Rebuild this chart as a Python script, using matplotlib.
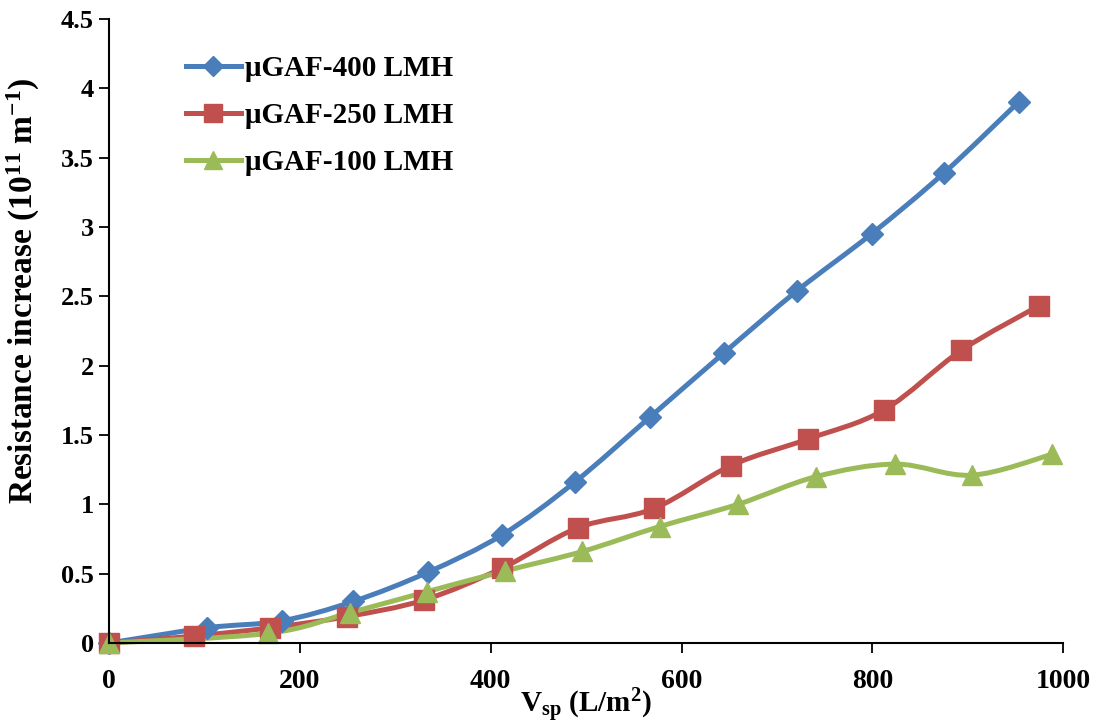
#Resistance increase vs specific permeate volume for three fluxes, Excel-style smoothed lines.
import numpy as np
import matplotlib
matplotlib.use('Agg')
import matplotlib.pyplot as plt
from matplotlib.path import Path
from matplotlib.patches import PathPatch

#data
v_400 = [0, 103, 181, 256, 334, 412, 488, 567, 644, 721, 799, 875, 953]
r_400 = [0, 0.11, 0.16, 0.30, 0.51, 0.78, 1.16, 1.63, 2.09, 2.54, 2.95, 3.39, 3.90]
v_250 = [0, 89, 169, 249, 330, 412, 491, 571, 652, 732, 812, 893, 974]
r_250 = [0, 0.05, 0.11, 0.19, 0.31, 0.54, 0.83, 0.97, 1.28, 1.47, 1.68, 2.11, 2.43]
v_100 = [0, 167, 253, 333, 415, 496, 577, 659, 741, 824, 904, 988]
r_100 = [0, 0.07, 0.22, 0.37, 0.52, 0.66, 0.84, 1.00, 1.20, 1.29, 1.21, 1.36]
labels = ['μGAF-400 LMH', 'μGAF-250 LMH', 'μGAF-100 LMH']
colors = ['#4A7EBB', '#C0504D', '#9BBB59']
markers = ['D', 's', '^']
msizes = [11, 14, 15]

plt.rcParams['font.family'] = ['Liberation Serif', 'DejaVu Serif']
plt.rcParams['font.weight'] = 'bold'
plt.rcParams['mathtext.fontset'] = 'custom'
plt.rcParams['mathtext.rm'] = 'Liberation Serif:bold'
plt.rcParams['mathtext.bf'] = 'Liberation Serif:bold'
plt.rcParams['mathtext.it'] = 'Liberation Serif:bold'

def smooth_path(x, y):
  #cubic bezier through the points, like Excel's smoothed line
  p = np.column_stack([x, y]).astype(float)
  n = len(p)
  ext = np.vstack([p[0], p, p[-1]])
  verts = [p[0]]
  codes = [Path.MOVETO]
  for i in range(n-1):
    c1 = p[i] + (ext[i+2]-ext[i])/6
    c2 = p[i+1] - (ext[i+3]-ext[i+1])/6
    verts += [c1, c2, p[i+1]]
    codes += [Path.CURVE4]*3
  return Path(verts, codes)

fig = plt.figure(figsize=(10.94, 7.27), dpi=100)
ax = fig.add_axes([0.0996, 0.1155, 0.8724, 0.8585])

for x, y, lab, c, m, ms in zip([v_400, v_250, v_100], [r_400, r_250, r_100], labels, colors, markers, msizes):
  ax.add_patch(PathPatch(smooth_path(x, y), fc='none', ec=c, lw=3.6, capstyle='round', joinstyle='round', clip_on=False))
  ax.plot(x, y, ls='none', marker=m, ms=ms, c=c, mec=c, clip_on=False)
  ax.plot([], [], c=c, lw=3.6, marker=m, ms=ms*0.9, label=lab)

ax.set_xlim(0, 1000)
ax.set_ylim(0, 4.5)
ax.set_xticks(np.arange(0, 1001, 200))
ax.set_yticks(np.arange(0, 4.51, 0.5))
ax.set_yticklabels(['%g' % t for t in np.arange(0, 4.51, 0.5)])
ax.spines['top'].set_visible(False)
ax.spines['right'].set_visible(False)
for s in ['left', 'bottom']:
  ax.spines[s].set_linewidth(1.5)
ax.tick_params(axis='x', direction='out', length=7, width=1.3, pad=12, labelsize=20)
ax.tick_params(axis='y', direction='out', length=7, width=1.3, pad=4, labelsize=19)
ax.set_xlabel(r'V$_{\mathrm{sp}}$ (L/m$^{2}$)', fontsize=21, fontweight='bold', labelpad=-6)
ax.set_ylabel(r'Resistance increase (10$^{11}$ m$^{-1}$)', fontsize=24, fontweight='bold')
ax.yaxis.set_label_coords(-0.07, 0.565)
ax.legend(loc='upper left', bbox_to_anchor=(0.065, 0.965), frameon=False, fontsize=21,
          handlelength=1.9, handletextpad=0.15, labelspacing=0.68, borderpad=0)
fig.savefig('out.png', dpi=100)
